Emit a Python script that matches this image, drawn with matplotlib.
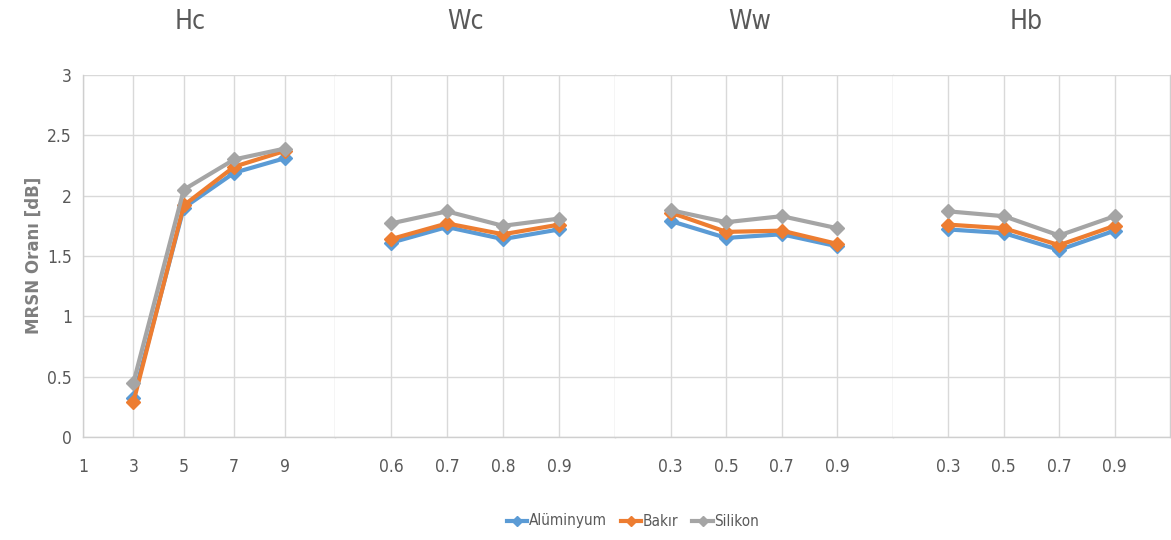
import numpy as np
import matplotlib
matplotlib.use("Agg")
import matplotlib.pyplot as plt
from matplotlib.lines import Line2D
from matplotlib import font_manager as fm


def _w(v):
    try:
        return int(v)
    except (TypeError, ValueError):
        return {"light": 300, "normal": 400, "regular": 400, "book": 400}.get(str(v).lower(), 700)


# pick an upright narrow/condensed face if one is installed (reference text is squeezed)
_cands = []
for _f in fm.fontManager.ttflist:
    narrow = "Narrow" in _f.name or "Condensed" in _f.name or "condensed" in str(_f.stretch)
    if narrow and _f.style == "normal" and 300 <= _w(_f.weight) <= 400:
        _cands.append((abs(_w(_f.weight) - 400), _f.fname))
_cands.sort()
if _cands:
    NF = fm.FontProperties(fname=_cands[0][1])
else:
    NF = fm.FontProperties(family="DejaVu Sans", stretch="condensed")

TXT = "#595959"
GRID = "#d9d9d9"
COL = {"Alüminyum": "#5B9BD5", "Bakır": "#ED7D31", "Silikon": "#A5A5A5"}

# panel titles and x categories
PANELS = ["Hc", "Wc", "Ww", "Hb"]
hc_x = [3, 5, 7, 9]
hc_ticks = ["1", "3", "5", "7", "9"]
wc_lbl = ["0.6", "0.7", "0.8", "0.9"]
ww_lbl = ["0.3", "0.5", "0.7", "0.9"]
hb_lbl = ["0.3", "0.5", "0.7", "0.9"]

# MRSN values (dB)
hc_al = [0.32, 1.90, 2.19, 2.31]
hc_ba = [0.29, 1.92, 2.24, 2.37]
hc_si = [0.45, 2.05, 2.30, 2.39]
wc_al = [1.61, 1.74, 1.64, 1.72]
wc_ba = [1.64, 1.77, 1.68, 1.76]
wc_si = [1.77, 1.87, 1.75, 1.81]
ww_al = [1.79, 1.65, 1.68, 1.58]
ww_ba = [1.86, 1.70, 1.71, 1.60]
ww_si = [1.88, 1.78, 1.83, 1.73]
hb_al = [1.72, 1.69, 1.55, 1.71]
hb_ba = [1.76, 1.73, 1.59, 1.75]
hb_si = [1.87, 1.83, 1.67, 1.83]

W, H = 1171, 540
fig = plt.figure(figsize=(W / 100, H / 100), dpi=100)

edges = [83, 335, 615, 893, 1170]
top, bot = 75, 437
axes = []
for i in range(4):
    l, r = edges[i], edges[i + 1]
    axes.append(fig.add_axes([l / W, (H - bot) / H, (r - l) / W, (bot - top) / H]))

series = [
    (hc_x, [hc_al, hc_ba, hc_si], hc_ticks),
    (None, [wc_al, wc_ba, wc_si], wc_lbl),
    (None, [ww_al, ww_ba, ww_si], ww_lbl),
    (None, [hb_al, hb_ba, hb_si], hb_lbl),
]

for i, (ax, (xv, ys, lbls)) in enumerate(zip(axes, series)):
    if xv is None:
        xv = np.arange(1, len(lbls) + 1)
        ax.set_xlim(0, len(lbls) + 1)
        ax.set_xticks(xv)
    else:
        ax.set_xlim(1, 11)
        ax.set_xticks([1, 3, 5, 7, 9])
    ax.set_xticklabels(lbls)
    for name, y in zip(COL, ys):
        ax.plot(xv, y, color=COL[name], lw=3, marker="D", ms=7, zorder=3)
    ax.set_ylim(0, 3)
    ax.set_yticks(np.arange(0, 3.01, 0.5))
    ax.yaxis.set_major_formatter(matplotlib.ticker.FuncFormatter(lambda v, p: f"{v:g}"))
    ax.grid(True, color=GRID, lw=1.0)
    ax.set_axisbelow(True)
    ax.spines["top"].set_visible(False)
    for s in ["left", "right", "bottom"]:
        ax.spines[s].set_color("#cfcfcf")
        ax.spines[s].set_linewidth(1.0)
    if i > 0:
        ax.spines["left"].set_visible(False)
        ax.tick_params(axis="y", labelleft=False)
    ax.tick_params(length=0, colors=TXT, pad=15)
    ax.tick_params(axis="y", pad=8)
    for t in ax.get_xticklabels() + ax.get_yticklabels():
        t.set_fontproperties(NF)
        t.set_fontsize(12.5)

fig.text(34 / W, 1 - 255 / H, "MRSN Oranı [dB]", rotation=90, ha="center", va="center",
         family="DejaVu Sans", fontsize=12, fontweight="bold", color="#7f7f7f")

title_x = [190, 466, 750, 1026]
for t, x in zip(PANELS, title_x):
    fig.text(x / W, 1 - 22 / H, t, ha="center", va="center", fontproperties=NF,
             fontsize=19, color=TXT)

handles = [Line2D([], [], color=c, lw=3, marker="D", ms=5, label=n) for n, c in COL.items()]
leg = fig.legend(handles=handles, loc="center", bbox_to_anchor=(633 / W, 1 - 521 / H), ncol=3,
                 frameon=False, prop=NF, labelcolor=TXT, handlelength=1.5,
                 handletextpad=0.1, columnspacing=1.0)
for t in leg.get_texts():
    t.set_fontsize(11)

fig.savefig("out.png", dpi=100)
